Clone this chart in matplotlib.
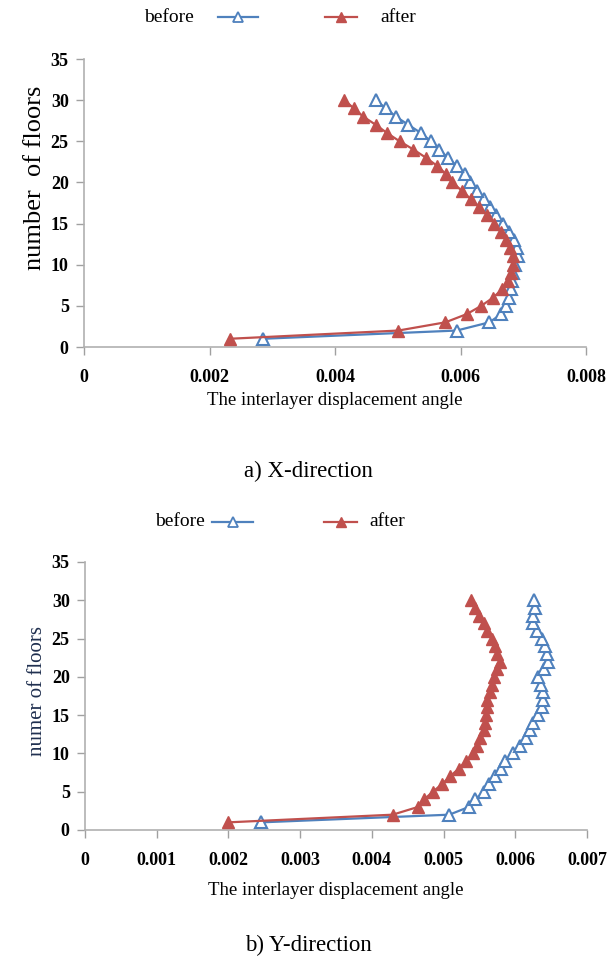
import matplotlib.pyplot as plt
from matplotlib.lines import Line2D

plt.rcParams['font.family'] = ['Liberation Serif', 'DejaVu Serif']

floors = list(range(1, 31))

# X-direction drift ratios, floor 1 -> 30
x_before = [0.00285, 0.00594, 0.00646, 0.00665, 0.00673, 0.00677, 0.00680, 0.00682,
            0.00684, 0.00687, 0.00692, 0.00690, 0.00686, 0.00678, 0.00667, 0.00657,
            0.00647, 0.00637, 0.00627, 0.00615, 0.00607, 0.00594, 0.00580, 0.00566,
            0.00553, 0.00537, 0.00517, 0.00497, 0.00481, 0.00465]
x_after = [0.00232, 0.00501, 0.00576, 0.00610, 0.00633, 0.00652, 0.00666, 0.00675,
           0.00680, 0.00683, 0.00684, 0.00679, 0.00673, 0.00664, 0.00654, 0.00643,
           0.00630, 0.00616, 0.00602, 0.00587, 0.00577, 0.00563, 0.00545, 0.00525,
           0.00503, 0.00483, 0.00465, 0.00445, 0.00430, 0.00415]

# Y-direction drift ratios, floor 1 -> 30
y_before = [0.00246, 0.00508, 0.00535, 0.00544, 0.00556, 0.00564, 0.00572, 0.00580,
            0.00586, 0.00597, 0.00607, 0.00615, 0.00621, 0.00625, 0.00632, 0.00637,
            0.00638, 0.00638, 0.00636, 0.00632, 0.00640, 0.00646, 0.00644, 0.00642,
            0.00637, 0.00630, 0.00625, 0.00625, 0.00628, 0.00626]
y_after = [0.00200, 0.00429, 0.00464, 0.00473, 0.00485, 0.00498, 0.00509, 0.00521,
           0.00531, 0.00541, 0.00547, 0.00551, 0.00556, 0.00558, 0.00559, 0.00560,
           0.00561, 0.00565, 0.00567, 0.00570, 0.00574, 0.00579, 0.00574, 0.00572,
           0.00567, 0.00561, 0.00556, 0.00549, 0.00544, 0.00538]

x_ticks_a = [0, 0.002, 0.004, 0.006, 0.008]
x_labels_a = ['0', '0.002', '0.004', '0.006', '0.008']
x_ticks_b = [0, 0.001, 0.002, 0.003, 0.004, 0.005, 0.006, 0.007]
x_labels_b = ['0', '0.001', '0.002', '0.003', '0.004', '0.005', '0.006', '0.007']
y_ticks = [0, 5, 10, 15, 20, 25, 30, 35]

BLUE = '#4F81BD'
RED = '#C0504D'
W, H = 616, 965

fig = plt.figure(figsize=(W / 100, H / 100), dpi=100)


def px_axes(left, top, right, bottom):
    return fig.add_axes([left / W, 1 - bottom / H, (right - left) / W, (bottom - top) / H])


def style(ax, xt, xl, xmax):
    ax.set_xlim(0, xmax)
    ax.set_ylim(0, 35)
    ax.set_xticks(xt)
    ax.set_xticklabels(xl)
    ax.set_yticks(y_ticks)
    for s in ('top', 'right'):
        ax.spines[s].set_visible(False)
    for s in ('left', 'bottom'):
        ax.spines[s].set_color('#b0b0b0')
        ax.spines[s].set_linewidth(1.2)
    ax.tick_params(color='#a0a0a0', length=6, width=1, pad=5)
    for lab in ax.get_xticklabels() + ax.get_yticklabels():
        lab.set_fontweight('bold')
        lab.set_fontsize(13)
    ax.tick_params(axis='x', pad=10)


def curves(ax, before, after):
    ax.plot(before, floors, color=BLUE, lw=1.6, marker='^', ms=8,
            mfc='white', mec=BLUE, mew=1.5, clip_on=False, zorder=3)
    ax.plot(after, floors, color=RED, lw=1.6, marker='^', ms=8,
            mfc=RED, mec=RED, clip_on=False, zorder=4)


def legend(y, before_right, b_line, a_line, after_left):
    yf = 1 - y / H
    fig.text(before_right / W, yf, 'before', ha='right', va='center', fontsize=14)
    fig.add_artist(Line2D([b_line[0] / W, b_line[1] / W], [yf, yf], color=BLUE, lw=1.6))
    fig.add_artist(Line2D([(b_line[0] + b_line[1]) / 2 / W], [yf], marker='^', ms=7,
                          mfc='white', mec=BLUE, mew=1.3, lw=0))
    fig.add_artist(Line2D([a_line[0] / W, a_line[1] / W], [yf, yf], color=RED, lw=1.6))
    fig.add_artist(Line2D([(a_line[0] + a_line[1]) / 2 / W], [yf], marker='^', ms=7,
                          mfc=RED, mec=RED, lw=0))
    fig.text(after_left / W, yf, 'after', ha='left', va='center', fontsize=14)


# a) X-direction
ax1 = px_axes(84, 59, 586, 347)
curves(ax1, x_before, x_after)
style(ax1, x_ticks_a, x_labels_a, 0.008)
ax1.set_xlabel('The interlayer displacement angle', fontsize=13.5, labelpad=4)
fig.text(35 / W, 1 - 178 / H, 'number  of floors', rotation=90, ha='center', va='center',
         fontsize=19)
legend(17, 194, (218, 258), (325, 357), 380)
fig.text(308 / W, 1 - 471 / H, 'a) X-direction', ha='center', va='center', fontsize=16.5)

# b) Y-direction
ax2 = px_axes(85, 562, 587, 830)
curves(ax2, y_before, y_after)
style(ax2, x_ticks_b, x_labels_b, 0.007)
ax2.set_xlabel('The interlayer displacement angle', fontsize=13.5, labelpad=9)
fig.text(38 / W, 1 - 691 / H, 'numer of floors', rotation=90, ha='center', va='center',
         fontsize=15, color='#1f2f4f')
legend(522, 205, (212, 253), (324, 357), 369)
fig.text(308 / W, 1 - 945 / H, 'b) Y-direction', ha='center', va='center', fontsize=16.5)

fig.savefig('out.png', dpi=100)
